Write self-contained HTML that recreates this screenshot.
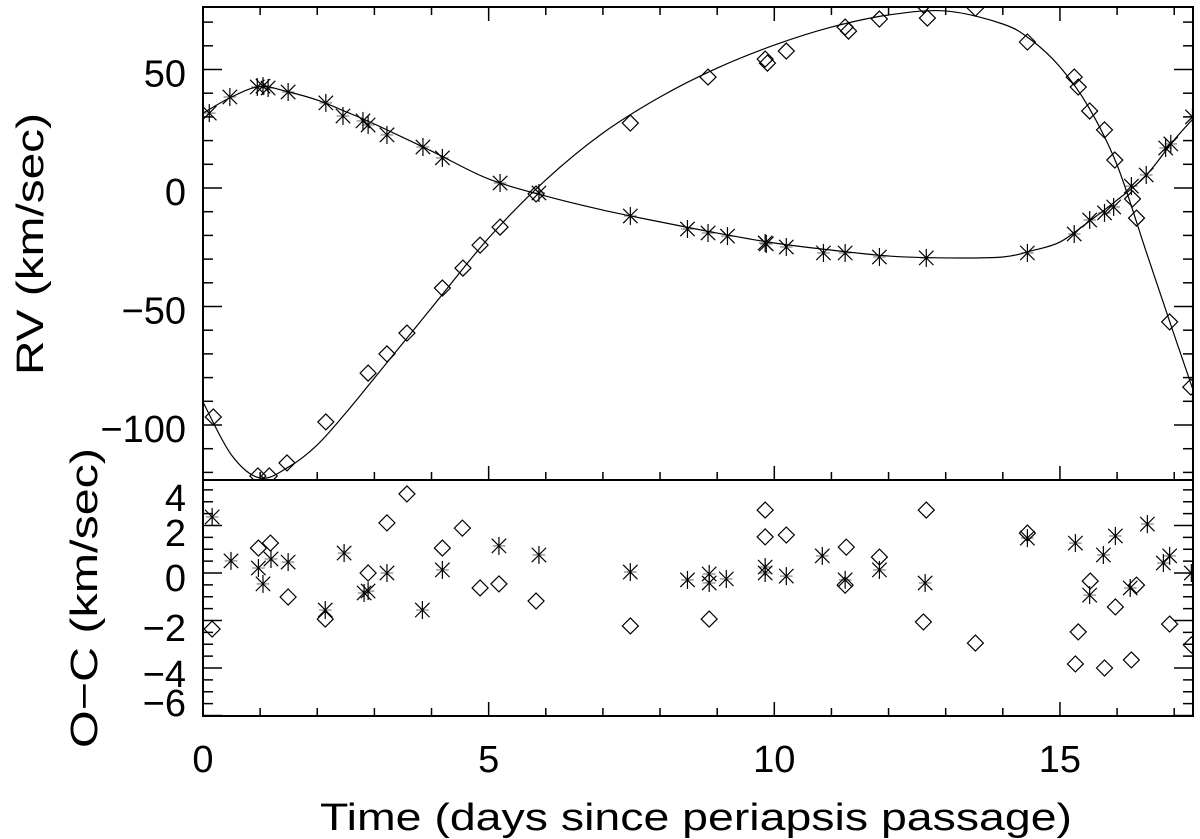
<!DOCTYPE html>
<html><head><meta charset="utf-8"><style>
html,body{margin:0;padding:0;background:#fff;}
svg{display:block;font-family:"Liberation Sans",sans-serif;}
</style></head><body>
<svg id="chart" width="1200" height="839" viewBox="0 0 1200 839" xmlns="http://www.w3.org/2000/svg">
<defs>
<clipPath id="clipTop"><rect x="203" y="7" width="990" height="473"/></clipPath>
<clipPath id="clipBot"><rect x="203" y="480" width="990" height="236"/></clipPath>
</defs>
<g id="axes"></g>
<g id="curves" clip-path="url(#clipTop)"></g>
<g id="topMarks" clip-path="url(#clipTop)"></g>
<g id="botMarks" clip-path="url(#clipBot)"></g>
<text x="696" y="830" font-size="38" textLength="752" lengthAdjust="spacingAndGlyphs" text-anchor="middle">Time (days since periapsis passage)</text>
<text transform="translate(43,244) rotate(-90)" font-size="38" textLength="262" lengthAdjust="spacingAndGlyphs" text-anchor="middle">RV (km/sec)</text>
<text transform="translate(97,598) rotate(-90)" font-size="38" textLength="300" lengthAdjust="spacingAndGlyphs" text-anchor="middle">O−C (km/sec)</text>
</svg>
<script>
// ---- data ----
const starA_t = [0.11,0.47,0.95,1.05,1.14,1.49,2.15,2.45,2.80,2.89,3.22,3.85,4.19,5.20,5.88,7.48,8.48,8.84,9.18,9.84,9.86,10.21,10.86,11.24,11.84,12.66,14.43,15.25,15.52,15.78,15.94,16.25,16.51,16.85,16.94,17.32];
const starA_rv = [31.6,38.4,42.6,43.0,42.2,40.5,35.9,30.4,28.3,26.6,22.4,17.3,12.7,2.1,-2.1,-11.8,-17.3,-19.0,-20.3,-23.2,-23.6,-24.9,-27.4,-27.4,-29.1,-29.5,-27.4,-19.4,-13.5,-10.5,-8.0,0.8,5.5,16.9,18.6,30.0];
const starB_t = [0.18,0.96,1.16,1.47,2.15,2.89,3.22,3.57,4.19,4.55,4.85,5.20,5.83,7.48,8.84,9.84,9.88,10.21,11.24,11.30,11.84,12.61,12.68,13.52,14.43,15.25,15.32,15.52,15.78,15.96,16.27,16.34,16.92,17.29];
const starB_rv = [-96.6,-121.5,-121.5,-116.0,-98.7,-78.1,-70.0,-61.2,-42.2,-33.8,-24.1,-16.5,-2.5,27.4,46.8,54.4,52.7,57.8,67.9,66.2,71.3,77.2,71.7,75.9,61.6,46.8,42.6,32.5,24.5,11.8,-4.6,-12.7,-56.5,-84.0];
const fit_t = [0,0.5,1,1.5,2,2.5,3,4,5,6,7,8,9,10,11,12,13,14,14.5,15,15.5,16,16.5,17,17.36];
const fitA_rv = [31.6,38.4,42.8,40.5,37.1,32.2,27.0,15.6,3.8,-3.4,-9.3,-14.3,-19.0,-23.2,-26.2,-28.7,-29.5,-29.1,-26.5,-22.8,-14.3,-5.1,5.1,20.3,30.0];
const fitB_rv = [-90.3,-112.7,-122.4,-117.7,-108.4,-94.9,-80.2,-50.6,-21.1,3.4,23.2,38.4,50.6,60.3,67.9,73.0,74.7,69.2,62.4,51.1,34.2,9.7,-26.2,-62.0,-87.3];
const resA_t = [0.16,0.49,0.97,1.05,1.19,1.49,2.14,2.47,2.82,2.89,3.22,3.84,4.19,5.18,5.88,7.48,8.48,8.86,8.86,9.16,9.84,9.84,10.21,10.84,11.24,11.84,12.64,14.43,15.27,15.52,15.76,15.97,16.23,16.53,16.81,16.92,17.30];
const resA_oc = [2.36,0.51,0.21,-0.46,0.59,0.46,-1.56,0.84,-0.84,-0.76,0,-1.56,0.13,1.14,0.76,0.04,-0.29,-0.04,-0.42,-0.25,0.25,0,-0.13,0.72,-0.29,0.13,-0.42,1.47,1.26,-0.93,0.76,1.56,-0.63,2.06,0.42,0.72,0];
const resB_t = [0.16,0.97,1.18,1.49,2.14,2.89,3.22,3.57,4.19,4.54,4.85,5.18,5.83,7.48,8.86,9.84,9.84,10.21,11.26,11.24,11.84,12.66,12.61,13.52,14.43,15.27,15.32,15.53,15.78,15.97,16.25,16.34,16.92,17.30];
const resB_oc = [-2.36,1.05,1.26,-1.01,-1.94,0,2.11,3.33,1.05,1.89,-0.63,-0.46,-1.18,-2.23,-1.94,2.65,1.52,1.60,1.09,-0.51,0.67,2.65,-2.06,-2.95,1.68,-3.83,-2.48,-0.34,-4.0,-1.43,-3.66,-0.51,-2.15,-3.03];
const xTicks = [0,5,10,15];
const rvTicks = [50,0,-50,-100];
const ocTicks = [4,2,0,-2,-4,-6];

// ---- scales ----
const X0=203, X1=1193, TOP=7, MID=480, BOT=716;
const sx = t => X0 + t*57.13;
const syTop = v => 188 - v*2.37;
const syBot = v => 573 - v*23.75;
const NS="http://www.w3.org/2000/svg";
function mk(tag, parent, attrs){const e=document.createElementNS(NS,tag);for(const k in attrs)e.setAttribute(k,attrs[k]);parent.appendChild(e);return e;}

const axes=document.getElementById('axes');
let f=mk('rect',axes,{x:X0,y:TOP,width:X1-X0,height:BOT-TOP,fill:'none',stroke:'#000','stroke-width':2});


let dv=mk('line',axes,{x1:X0,x2:X1,y1:MID,y2:MID,stroke:'#000','stroke-width':2});



for(let d=0; d<=17; d++){
  const x=sx(d), maj=(d%5===0), L=maj?14:8;
  [[TOP,1],[MID,-1],[BOT,-1]].forEach(([y,s])=>{
    const t=mk('line',axes,{x1:x,x2:x,y1:y,y2:y+s*L,stroke:'#000','stroke-width':1.5});
    
    
  });
}
xTicks.forEach(v=>{
  const t=mk('text',axes,{x:sx(v),y:772,'font-size':38,'text-anchor':'middle'});
  t.textContent=String(v);
  
  
});
for(let v=-120; v<=70; v+=10){
  const y=syTop(v), L=(v%50===0)?19:10;
  [[X0,1],[X1,-1]].forEach(([x,s])=>{
    const t=mk('line',axes,{x1:x,x2:x+s*L,y1:y,y2:y,stroke:'#000','stroke-width':1.5});
    
    
  });
}
rvTicks.forEach(v=>{
  const t=mk('text',axes,{x:186,y:syTop(v)+17,'font-size':38,'text-anchor':'end'});
  t.textContent=String(v).replace('-','−');
  
  
});
for(let i=-12; i<=7; i++){
  const v=i*0.5, y=syBot(v), L=(i%4===0)?19:10;
  [[X0,1],[X1,-1]].forEach(([x,s])=>{
    const t=mk('line',axes,{x1:x,x2:x+s*L,y1:y,y2:y,stroke:'#000','stroke-width':1.5});
    
    
  });
}
const ocLabelOffset=[3.2,1.73,-0.17,-2.27,-4.21,-5.43];
ocTicks.forEach((v,i)=>{
  const t=mk('text',axes,{x:186,y:syBot(ocLabelOffset[i])+14,'font-size':38,'text-anchor':'end'});
  t.textContent=String(v).replace('-','−');
  
  
});

function splinePath(ts, vs, sy){
  const p=ts.map((t,i)=>[sx(t),sy(vs[i])]);
  let d=`M${p[0][0]},${p[0][1]}`;
  for(let i=0;i<p.length-1;i++){
    const p0=p[Math.max(0,i-1)],p1=p[i],p2=p[i+1],p3=p[Math.min(p.length-1,i+2)];
    const c1=[p1[0]+(p2[0]-p0[0])/6,p1[1]+(p2[1]-p0[1])/6];
    const c2=[p2[0]-(p3[0]-p1[0])/6,p2[1]-(p3[1]-p1[1])/6];
    d+=` C${c1[0]},${c1[1]} ${c2[0]},${c2[1]} ${p2[0]},${p2[1]}`;
  }
  return d;
}
const curves=document.getElementById('curves');
let ca=mk('path',curves,{d:splinePath(fit_t,fitA_rv,syTop),fill:'none',stroke:'#000','stroke-width':1.2});


let cb=mk('path',curves,{d:splinePath(fit_t,fitB_rv,syTop),fill:'none',stroke:'#000','stroke-width':1.2});



function asterisk(parent,x,y,r){
  const g=mk('g',parent,{stroke:'#000','stroke-width':1.2});
  mk('line',g,{x1:x,x2:x,y1:y-r,y2:y+r});
  mk('line',g,{x1:x-r*0.8,x2:x+r*0.8,y1:y-r*0.8,y2:y+r*0.8});
  mk('line',g,{x1:x-r*0.8,x2:x+r*0.8,y1:y+r*0.8,y2:y-r*0.8});
  mk('line',g,{x1:x-r*0.7,x2:x+r*0.7,y1:y,y2:y,'stroke-opacity':0.5});
  return g;
}
function diamond(parent,x,y,r){
  return mk('path',parent,{d:`M${x},${y-r} L${x+r},${y} L${x},${y+r} L${x-r},${y} Z`,fill:'none',stroke:'#000','stroke-width':1.2});
}
const topG=document.getElementById('topMarks'), botG=document.getElementById('botMarks');
starA_t.forEach((t,i)=>{
  const m=asterisk(topG,sx(t),syTop(starA_rv[i]),9);
  
  
});
starB_t.forEach((t,i)=>{
  const m=diamond(topG,sx(t),syTop(starB_rv[i]),8);
  
  
});
resA_t.forEach((t,i)=>{
  const m=asterisk(botG,sx(t),syBot(resA_oc[i]),9);
  
  
});
resB_t.forEach((t,i)=>{
  const m=diamond(botG,sx(t),syBot(resB_oc[i]),8);
  
  
});
</script>
</body></html>
